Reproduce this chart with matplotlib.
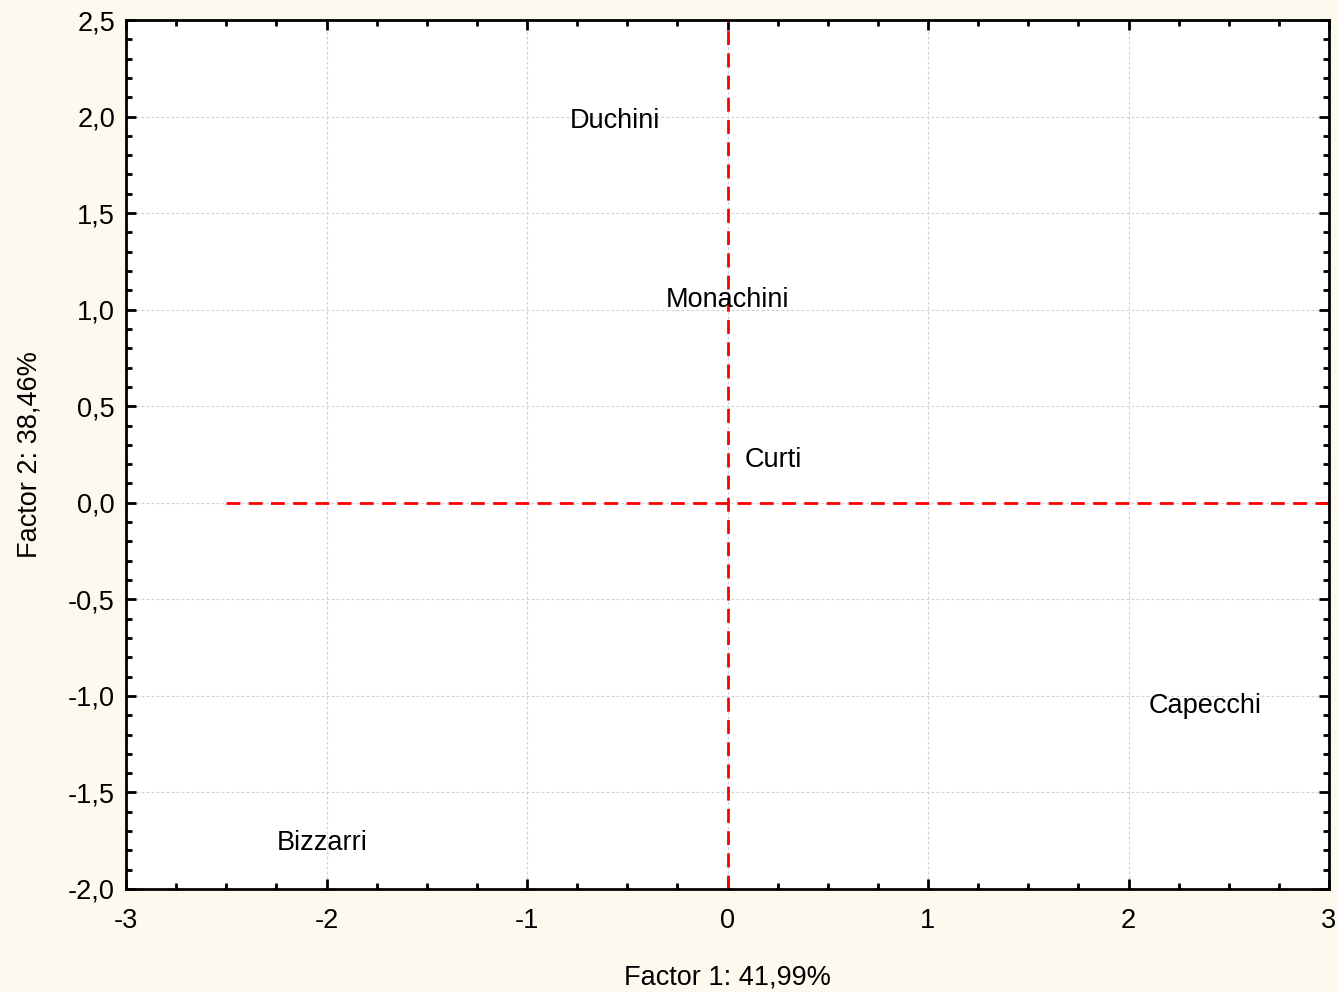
import matplotlib
matplotlib.use("Agg")
import matplotlib.pyplot as plt
from matplotlib.ticker import MultipleLocator, FuncFormatter

names = ["Duchini", "Monachini", "Curti", "Capecchi", "Bizzarri"]
f1 = [-0.56, 0.0, 0.23, 2.38, -2.02]
f2 = [1.975, 1.05, 0.22, -1.05, -1.76]

plt.rcParams['font.family'] = ['Liberation Sans', 'DejaVu Sans']
fs = 19.5

fig = plt.figure(figsize=(13.37, 9.92), dpi=100, facecolor='#FEF9EF')
ax = fig.add_axes([126/1337, 1 - 889/992, (1329-126)/1337, (889-20)/992])
ax.set_facecolor('white')

ax.set_xlim(-3, 3)
ax.set_ylim(-2, 2.5)
ax.xaxis.set_major_locator(MultipleLocator(1))
ax.xaxis.set_minor_locator(MultipleLocator(0.25))
ax.yaxis.set_major_locator(MultipleLocator(0.5))
ax.yaxis.set_minor_locator(MultipleLocator(0.1))
ax.yaxis.set_major_formatter(FuncFormatter(lambda v, p: ("%.1f" % v).replace('.', ',')))
ax.xaxis.set_major_formatter(FuncFormatter(lambda v, p: "%d" % round(v)))

ax.tick_params(which='both', direction='in', top=True, right=True, width=2, labelsize=fs, color='black')
ax.tick_params(which='major', length=7)
ax.tick_params(axis='x', which='major', pad=14)
ax.tick_params(axis='y', which='major', pad=8)
ax.tick_params(which='minor', length=4)
for s in ax.spines.values():
    s.set_linewidth(2)

ax.grid(True, which='major', color='#d0d0d0', linestyle=(0, (2.5, 2)), linewidth=0.8)

ax.plot([-2.5, 3], [0, 0], color='#ff0000', linestyle=(0, (5, 3)), linewidth=2, clip_on=False)
ax.plot([0, 0], [-2, 2.5], color='#ff0000', linestyle=(0, (5, 3)), linewidth=2, clip_on=False)

for n, x, y in zip(names, f1, f2):
    ax.text(x, y, n, fontsize=fs, ha='center', va='center')

ax.set_xlabel("Factor 1: 41,99%", fontsize=fs, labelpad=22)
ax.set_ylabel("Factor 2: 38,46%", fontsize=fs, labelpad=18)

fig.savefig("out.png", dpi=100, facecolor=fig.get_facecolor())
